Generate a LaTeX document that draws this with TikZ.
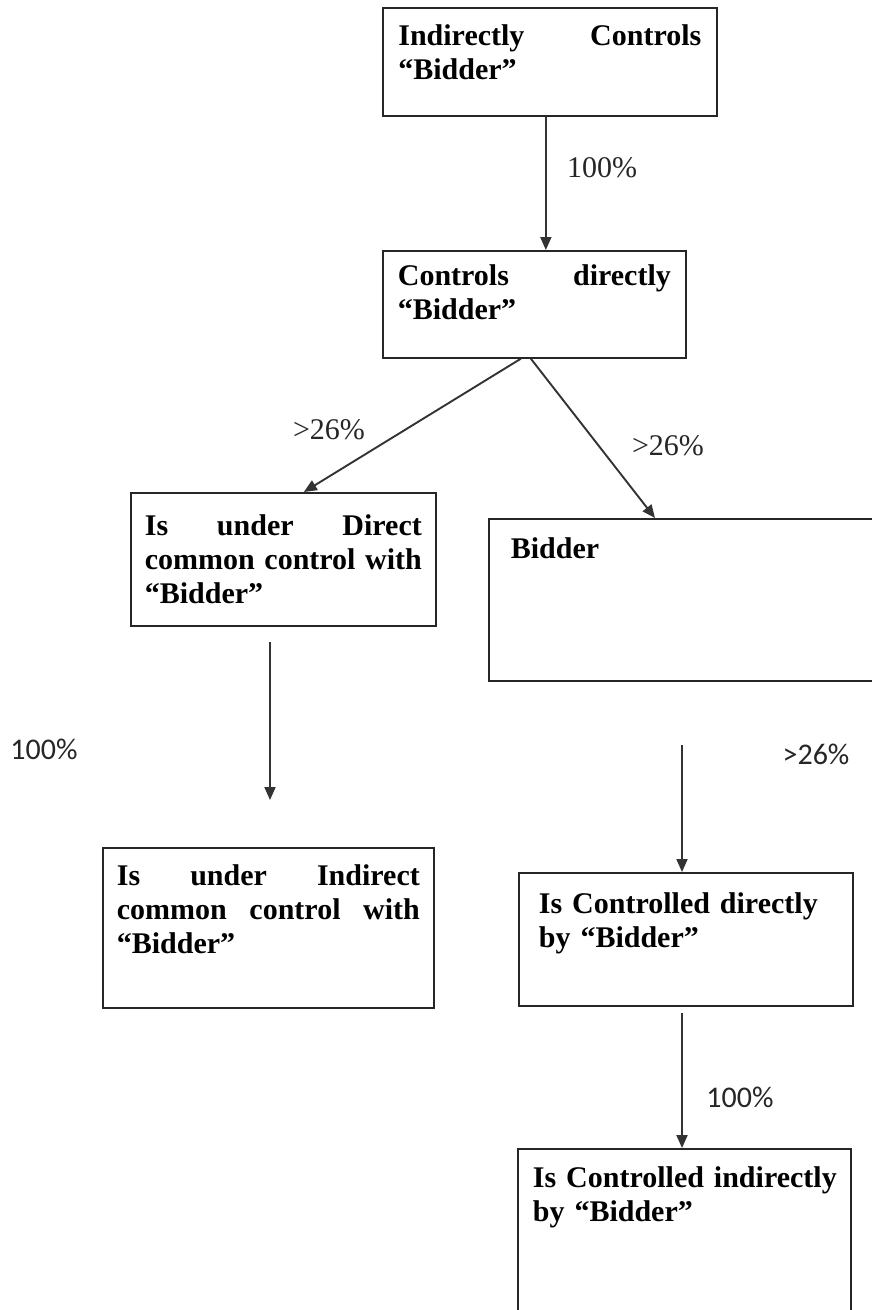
\documentclass[tikz,border=0pt]{standalone}
\usepackage{fontspec}
\setmainfont{Liberation Serif}
\newfontfamily\labsans{Carlito}
\usetikzlibrary{arrows.meta}
\begin{document}
\begin{tikzpicture}[x=1pt,y=-1pt,
  box/.style={draw=black!85, line width=1.7pt, anchor=north west,
    font=\fontsize{30}{34}\selectfont\bfseries, text height=21pt},
  arr/.style={draw=black!80, line width=1.9pt, -{Triangle[length=13pt,width=11pt]}},
  serlab/.style={font=\fontsize{30}{34}\selectfont, text=black!85},
  sanslab/.style={font=\labsans\fontsize{30}{34}\selectfont, text=black!85}]
\useasboundingbox[fill=white] (0,0) rectangle (872,1310);

\node[box, text width=303pt, inner xsep=15.5pt, inner ysep=17pt, text depth=53pt] (ic) at (382,7)
  {Indirectly\hfill Controls\\“Bidder”};
\node[box, text width=273pt, inner xsep=15pt, inner ysep=14pt, text depth=58pt] (cd) at (382,250)
  {Controls\hfill directly\\“Bidder”};
\node[box, text width=277pt, inner xsep=14pt, inner ysep=22pt, text depth=68pt] (dc) at (130,492)
  {Is\hfill under\hfill Direct\\common\hfill control\hfill with\\“Bidder”};
\node[box, text width=356pt, inner xsep=22pt, inner ysep=19pt, text depth=103pt] (bd) at (488,518)
  {Bidder};
\node[box, text width=303pt, inner xsep=14pt, inner ysep=17pt, text depth=105pt] (ic2) at (102,847)
  {Is\hfill under\hfill Indirect\\common\hfill control\hfill with\\“Bidder”};
\node[box, text width=294pt, inner xsep=20pt, inner ysep=20pt, text depth=72pt] (cdb) at (518,872)
  {\mbox{Is Controlled directly}\\by “Bidder”};
\node[box, text width=303pt, inner xsep=15pt, inner ysep=18pt, text depth=123pt] (cib) at (517,1148)
  {\mbox{Is Controlled indirectly}\\by “Bidder”};

\coordinate (a4s) at (270,642);
\coordinate (a4e) at (270,800);
\coordinate (a5s) at (682,745);
\coordinate (a6s) at (682,1013);

\draw[arr] ([xshift=-4pt]ic.south) -- ([xshift=-4pt]ic.south |- cd.north);
\draw[arr] ([xshift=-13.5pt]cd.south) -- ([xshift=20.5pt]dc.north);
\draw[arr] ([xshift=-3.5pt]cd.south) -- ([xshift=167pt]bd.north west);
\draw[arr] (a4s) -- (a4e);
\draw[arr] (a5s) -- (a5s |- cdb.north);
\draw[arr] (a6s) -- (a6s |- cib.north);

\node[serlab] (l1) at (602,168) {100\%};
\node[serlab] (l2) at (329,430) {>26\%};
\node[serlab] (l3) at (668,446) {>26\%};
\node[sanslab] (l4) at (44,749) {100\%};
\node[sanslab] (l5) at (816,754) {>26\%};
\node[sanslab] (l6) at (740,1097) {100\%};
\end{tikzpicture}
\end{document}
